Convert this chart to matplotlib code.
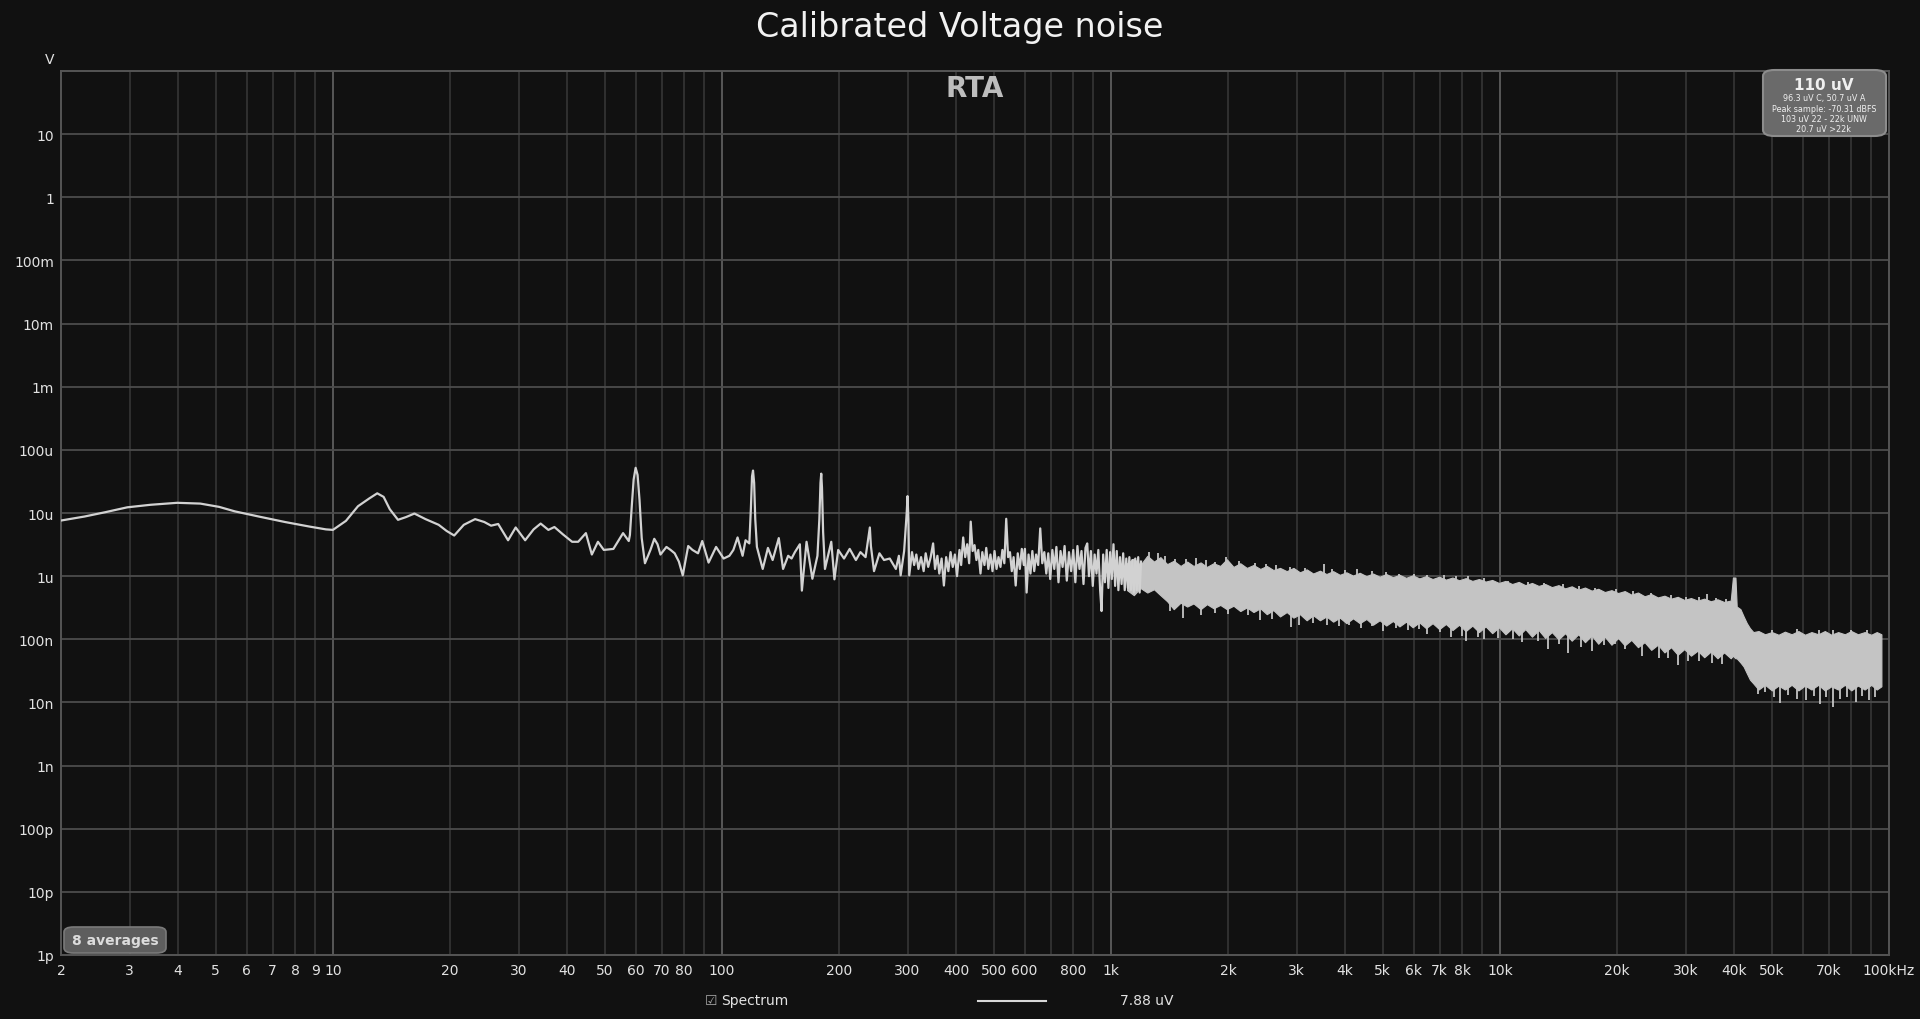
import numpy as np
import matplotlib
matplotlib.use("Agg")
import matplotlib.pyplot as plt
from matplotlib.patches import FancyBboxPatch

# ---------------- data (values in microvolts) ----------------
line_freq = [2, 2.3, 2.6, 2.96, 3.4, 3.98, 4.56, 5.1, 5.6, 6.5, 7.53, 8.7, 9.6, 10, 10.8, 11.6, 12.4, 13.0,
             13.5, 14.0, 14.7, 15.4, 16.2, 17.3, 18.7, 19.6, 20.5, 21.7, 23.2, 24.5, 25.5, 26.6, 28.2, 29.5,
             31.2, 32.8, 34.2, 35.8, 37.1, 39.0, 41.2, 42.7, 44.7, 46.3, 48.0, 49.7, 52.6, 55.7, 57.6, 58.0,
             58.7, 59.3, 60.0, 60.7, 61.4, 62.2, 63.4, 65.5, 67, 68.3, 69.5, 72, 73.8, 75.6, 77.5, 79.3, 81.9,
             84, 86.8, 89, 92.4, 96.6, 101, 104.5, 107, 109.7, 113, 115, 117.6, 118.7, 119.5, 120.2, 121,
             121.8, 123, 127.3, 131.3, 135, 140, 143.6, 148, 151, 154, 158.6, 160.5, 165, 170.8, 176, 178,
             179.2, 180, 180.8, 182, 184, 191, 194.6, 199, 206, 213, 221, 227, 234, 238.5, 240, 241.5, 246,
             254, 261, 270, 280, 285, 288, 294, 298.5, 300, 301.5, 303, 308, 312, 316, 320, 325, 330, 334,
             339, 344, 349, 353, 358, 362, 367, 372, 377, 382, 387, 392, 397, 402, 408, 412, 417, 422, 427,
             432, 436, 441, 446, 451, 456, 462, 467, 473, 478, 484, 490, 496, 502, 508, 514, 520, 526, 532,
             538, 544, 550, 556, 562, 569, 576, 583, 590, 597, 601, 607, 614, 621, 628, 635, 642, 650, 658,
             666, 674, 682, 690, 698, 707, 715, 724, 733, 742, 751, 760, 770, 780, 790, 800, 810, 820, 830,
             840, 850, 860, 869, 878, 888, 898, 908, 918, 928, 938, 946, 955, 965, 975, 985, 995, 1005, 1015,
             1025, 1035, 1045, 1055, 1065, 1075, 1085, 1095, 1105, 1115, 1125, 1135, 1145, 1155, 1165, 1175,
             1185, 1195]
line_uv = [7.6, 8.8, 10.3, 12.3, 13.5, 14.5, 14.1, 12.5, 10.6, 8.7, 7.2, 6.1, 5.5, 5.4, 7.5, 12.8, 17.0, 20.5,
           18.0, 11.5, 7.8, 8.6, 9.8, 8.0, 6.5, 5.2, 4.4, 6.5, 8.0, 7.2, 6.3, 6.7, 3.7, 5.9,
           3.7, 5.5, 6.8, 5.4, 6.0, 4.6, 3.5, 3.5, 4.8, 2.2, 3.5, 2.6, 2.7, 4.8, 3.6, 4.5,
           14, 34, 52, 40, 16, 4.0, 1.6, 2.6, 3.9, 3.2, 2.2, 2.9, 2.6, 2.3, 1.7, 1.03, 3.0,
           2.6, 2.3, 3.6, 1.64, 2.9, 1.9, 2.1, 2.6, 4.1, 2.1, 3.7, 3.3, 12, 38, 47, 30,
           8, 2.9, 1.3, 2.8, 1.8, 4.0, 1.3, 2.1, 1.9, 2.4, 3.2, 0.59, 3.5, 0.91, 2.1, 8,
           30, 42, 25, 5, 1.3, 3.5, 0.89, 2.6, 1.9, 2.7, 1.8, 2.4, 2.0, 4.5, 5.9, 3.0, 1.2,
           2.3, 1.8, 1.9, 1.3, 2.1, 1.03, 2.5, 10, 18.5, 8, 1.03, 2.4, 1.5, 2.2, 1.3, 2.0, 1.2, 2.3,
           1.4, 2.0, 3.3, 1.3, 2.1, 1.1, 1.9, 0.71, 2.0, 1.2, 2.4, 1.4, 2.2, 1.0, 2.6, 1.5, 4.1, 2.0, 3.2,
           1.6, 7.3, 2.5, 3.1, 1.8, 2.6, 1.1, 2.4, 1.5, 2.8, 1.3, 2.2, 1.2, 2.5, 1.3, 2.0, 1.4, 2.6, 1.6,
           8.1, 2.0, 2.4, 1.2, 2.0, 0.71, 2.3, 1.3, 2.7, 1.5, 2.7, 0.55, 2.2, 1.1, 2.5, 1.2, 2.2, 1.5, 5.7,
           1.6, 2.4, 1.1, 2.3, 0.9, 2.6, 1.3, 2.9, 0.8, 2.5, 1.4, 3.0, 0.85, 2.4, 1.2, 2.6, 0.8, 3.0, 1.3,
           2.5, 0.75, 2.8, 3.3, 1.0, 2.5, 0.7, 2.2, 1.1, 2.6, 0.6, 0.28, 2.2, 0.8, 2.6, 0.65, 2.4, 0.9, 3.2,
           0.7, 2.5, 0.6, 2.0, 0.75, 2.3, 0.6, 1.9, 0.65, 2.0, 0.6, 1.8, 0.55, 1.9, 0.6, 2.0,
           0.55, 1.7]

band_freq = [1100, 1145, 1190, 1240, 1290, 1340, 1395, 1450, 1510, 1570, 1630, 1700, 1765, 1835, 1910, 1985,
             2065, 2150, 2235, 2325, 2420, 2515, 2615, 2720, 2830, 2945,
             3060, 3185, 3310, 3445, 3580, 3725, 3875, 4030, 4190, 4360, 4535, 4715, 4905,
             5100, 5305, 5515, 5735, 5965, 6205, 6455, 6710, 6980, 7260, 7550, 7850, 8165, 8490, 8830,
             9185, 9550, 9935,
             10330, 10745, 11175, 11620, 12085, 12570, 13070, 13595, 14140, 14705, 15290, 15900, 16540,
             17200, 17890, 18600, 19345, 20120,
             20925, 21760, 22630, 23535, 24480, 25455, 26475, 27535, 28635, 29780, 30970, 32210, 33500,
             34840, 36230, 37680, 39190, 39700, 40300, 40600, 41500, 42300, 43100, 43900, 44800,
             46200, 48000, 50000, 52000, 54000, 56200, 58500, 60800, 63200, 65800, 68400, 71100, 74000,
             77000, 80000, 83200, 86600, 90000, 93000, 95600]
band_top_uv = [1.6, 1.9, 1.5, 2.1, 1.7, 2.0, 1.55, 1.75, 1.45, 1.7, 1.45, 1.65, 1.4, 1.6, 1.45, 1.85,
               1.4, 1.6, 1.35, 1.5, 1.3, 1.45, 1.25, 1.35, 1.2, 1.35,
               1.15, 1.28, 1.1, 1.22, 1.08, 1.2, 1.05, 1.15, 1.02, 1.13, 1.0, 1.1, 0.98,
               1.08, 0.96, 1.05, 0.94, 1.03, 0.92, 1.0, 0.9, 0.98, 0.88, 0.95, 0.86, 0.93, 0.84, 0.9,
               0.82, 0.87, 0.78,
               0.84, 0.75, 0.81, 0.72, 0.78, 0.7, 0.75, 0.67, 0.72, 0.64, 0.69, 0.61, 0.66,
               0.59, 0.63, 0.56, 0.6, 0.54,
               0.58, 0.51, 0.55, 0.48, 0.52, 0.46, 0.49, 0.44, 0.47, 0.42, 0.45, 0.41, 0.44,
               0.4, 0.43, 0.39, 0.41, 0.95, 0.95, 0.33, 0.3, 0.23, 0.18, 0.15, 0.13,
               0.135, 0.12, 0.13, 0.118, 0.132, 0.12, 0.135, 0.118, 0.13, 0.12, 0.135, 0.118, 0.13,
               0.12, 0.135, 0.12, 0.13, 0.118, 0.13, 0.12]
band_bot_uv = [0.6, 0.5, 0.65, 0.55, 0.62, 0.5, 0.4, 0.3, 0.38, 0.33, 0.37, 0.3, 0.36, 0.31, 0.35, 0.3,
               0.34, 0.28, 0.32, 0.27, 0.31, 0.25, 0.29, 0.23, 0.27, 0.22,
               0.25, 0.2, 0.24, 0.2, 0.23, 0.19, 0.22, 0.18, 0.215, 0.18, 0.21, 0.17, 0.2,
               0.165, 0.195, 0.16, 0.19, 0.155, 0.185, 0.15, 0.18, 0.145, 0.175, 0.14, 0.17, 0.135, 0.165, 0.13,
               0.16, 0.125, 0.155,
               0.12, 0.15, 0.115, 0.145, 0.11, 0.14, 0.105, 0.13, 0.1, 0.125, 0.095, 0.12, 0.09,
               0.115, 0.085, 0.11, 0.082, 0.105,
               0.08, 0.098, 0.075, 0.09, 0.068, 0.082, 0.062, 0.075, 0.057, 0.07, 0.055, 0.066, 0.052,
               0.064, 0.05, 0.062, 0.05, 0.055, 0.05, 0.05, 0.043, 0.037, 0.029, 0.023, 0.02,
               0.016, 0.019, 0.0155, 0.0185, 0.016, 0.019, 0.0155, 0.0185, 0.016, 0.019, 0.0155, 0.018, 0.016,
               0.019, 0.0155, 0.0185, 0.016, 0.019, 0.016, 0.018]

up_spike_freq = [1250, 1320, 1380, 1460, 1560, 1650, 1760, 1850, 1970, 2140, 2350, 2500, 2650, 2880, 3150,
                 3530, 3700, 4000, 4300, 4700, 5100, 5500, 6000, 6500, 7200, 7700, 8300, 9100, 10500, 11800,
                 13000, 14500, 16000, 17500, 19900, 22000, 24500, 27500, 30000, 32500, 34000, 36000, 38000,
                 50000, 58000, 66000, 72000, 80000, 88000]
up_spike_uv = [2.45, 2.3, 2.1, 1.9, 1.85, 1.95, 1.8, 1.7, 2.0, 1.75, 1.6, 1.55, 1.5, 1.4, 1.35,
               1.55, 1.3, 1.25, 1.3, 1.2, 1.15, 1.1, 1.1, 1.05, 1.05, 1.0, 1.0, 0.94, 0.83, 0.8,
               0.78, 0.75, 0.7, 0.66, 0.62, 0.58, 0.54, 0.5, 0.47, 0.46, 0.53, 0.45, 0.44,
               0.14, 0.145, 0.14, 0.14, 0.14, 0.14]

dn_spike_freq = [1420, 1530, 1700, 1850, 2000, 2250, 2420, 2600, 2900, 3050, 3300, 3600, 3850, 4100, 4400,
                 4700, 5000, 5400, 5800, 6200, 6500, 7000, 7500, 8000, 8200, 8800, 9100, 9900, 10800, 11400,
                 12500, 13300, 14200, 15000, 16200, 17200, 18500, 19800, 21000, 23200, 25600, 27000, 28600,
                 30500, 32400, 35000, 37200, 46000, 48000, 50500, 52500, 55000, 58000, 61200, 64000, 66500,
                 69000, 71600, 75000, 78000, 82400, 85000, 88900, 92000]
dn_spike_uv = [0.28, 0.22, 0.24, 0.26, 0.25, 0.24, 0.2, 0.21, 0.155, 0.17, 0.18, 0.17, 0.16, 0.17, 0.15,
               0.16, 0.137, 0.15, 0.14, 0.145, 0.12, 0.13, 0.107, 0.113, 0.094, 0.11, 0.1, 0.105, 0.1, 0.09,
               0.095, 0.07, 0.085, 0.06, 0.075, 0.065, 0.08, 0.085, 0.07, 0.055, 0.05, 0.05, 0.039,
               0.045, 0.045, 0.042, 0.04, 0.0135, 0.0147, 0.012, 0.0098, 0.013, 0.0115, 0.011, 0.0125, 0.0095,
               0.012, 0.0086, 0.0115, 0.012, 0.0102, 0.0125, 0.011, 0.012]

xtick_vals = [2, 3, 4, 5, 6, 7, 8, 9, 10, 20, 30, 40, 50, 60, 70, 80, 100, 200, 300, 400, 500, 600, 800,
              1000, 2000, 3000, 4000, 5000, 6000, 7000, 8000, 10000, 20000, 30000, 40000, 50000, 70000, 100000]
xtick_labels = ['2', '3', '4', '5', '6', '7', '8', '9', '10', '20', '30', '40', '50', '60', '70', '80', '100',
                '200', '300', '400', '500', '600', '800', '1k', '2k', '3k', '4k', '5k', '6k', '7k', '8k', '10k',
                '20k', '30k', '40k', '50k', '70k', '100kHz']
ytick_vals = [1e1, 1e0, 1e-1, 1e-2, 1e-3, 1e-4, 1e-5, 1e-6, 1e-7, 1e-8, 1e-9, 1e-10, 1e-11, 1e-12]
ytick_labels = ['10', '1', '100m', '10m', '1m', '100u', '10u', '1u', '100n', '10n', '1n', '100p', '10p', '1p']

title = "Calibrated Voltage noise"
legend_name = "Spectrum"
legend_value = "7.88 uV"
info_main = "110 uV"
info_lines = ["96.3 uV C, 50.7 uV A", "Peak sample: -70.31 dBFS", "103 uV 22 - 22k UNW", "20.7 uV >22k"]
averages_text = "8 averages"

# ---------------- figure ----------------
W, H = 1920, 1020
BG = '#111111'
fig = plt.figure(figsize=(W / 100, H / 100), dpi=100, facecolor=BG)
L, R, T, B = 61, 1889, 72, 956
ax = fig.add_axes([L / W, 1 - B / H, (R - L) / W, (B - T) / H], facecolor=BG)
ax.set_xscale('log')
ax.set_yscale('log')
ax.set_xlim(2, 1e5)
ax.set_ylim(1e-12, 1e2)

# grid
for k in range(0, 5):
    for m in range(1, 10):
        f = m * 10 ** k
        if 2 < f < 1e5:
            if m == 1:
                ax.axvline(f, color='#575757', lw=1.4, zorder=1)
            else:
                ax.axvline(f, color='#393939', lw=1.1, zorder=1)
for v in ytick_vals[:-1]:
    ax.axhline(v, color='#4c4c4c', lw=1.3, zorder=1)

for s in ax.spines.values():
    s.set_color('#555555')
    s.set_linewidth(1.4)

ax.set_xticks(xtick_vals)
ax.set_xticklabels(xtick_labels)
ax.set_yticks(ytick_vals)
ax.set_yticklabels(ytick_labels)
ax.minorticks_off()
ax.tick_params(axis='both', length=0, colors='#e2e2e2', labelsize=10)
ax.tick_params(axis='x', pad=6)
ax.tick_params(axis='y', pad=5)

# data
uv = 1e-6
lf = np.array(line_freq, float)
lv = np.array(line_uv, float) * uv
bf = np.array(band_freq, float)
bt = np.array(band_top_uv, float) * uv
bb = np.array(band_bot_uv, float) * uv
band_col = '#c4c4c4'

ax.fill_between(bf, bb, bt, color=band_col, lw=0.8, edgecolor=band_col, zorder=3)
centre = np.log(np.sqrt(bt * bb))
up_base = np.exp(np.interp(np.log(up_spike_freq), np.log(bf), centre))
dn_base = np.exp(np.interp(np.log(dn_spike_freq), np.log(bf), centre))
ax.vlines(up_spike_freq, up_base, np.array(up_spike_uv) * uv, color=band_col, lw=1.3, zorder=3)
ax.vlines(dn_spike_freq, np.array(dn_spike_uv) * uv, dn_base, color=band_col, lw=1.3, zorder=3)
ax.plot(lf, lv, color='#d2d2d2', lw=1.6, zorder=4, solid_joinstyle='round')

# RTA label
fig.text(975 / W, 1 - 89 / H, 'RTA', ha='center', va='center', fontsize=20,
         fontweight='bold', color='#bdbdbd', zorder=6)

# title and unit
fig.text(960 / W, 1 - 28 / H, title, ha='center', va='center', fontsize=24, color='#f2f2f2')
fig.text(50 / W, 1 - 60 / H, 'V', ha='center', va='center', fontsize=10, color='#e2e2e2')

# info box (top right)
box = FancyBboxPatch((1763 / W, 1 - 137 / H), (1886 - 1763) / W, (137 - 71) / H,
                     boxstyle='round,pad=0,rounding_size=0.006', transform=fig.transFigure,
                     facecolor='#6a6a6a', edgecolor='#8c8c8c', lw=1.5, zorder=10)
fig.patches.append(box)
fig.text(1824 / W, 1 - 85 / H, info_main, ha='center', va='center', fontsize=11, fontweight='bold',
         color='#f0f0f0', zorder=11)
for i, s in enumerate(info_lines):
    fig.text(1824 / W, 1 - (99 + 10.3 * i) / H, s, ha='center', va='center', fontsize=5.8,
             color='#f0f0f0', zorder=11)

# averages box (bottom left)
box2 = FancyBboxPatch((64 / W, 1 - 954 / H), (166 - 64) / W, (954 - 928) / H,
                      boxstyle='round,pad=0,rounding_size=0.005', transform=fig.transFigure,
                      facecolor='#5e5e5e', edgecolor='#7a7a7a', lw=1.2, zorder=10)
fig.patches.append(box2)
fig.text(115 / W, 1 - 941 / H, averages_text, ha='center', va='center', fontsize=10, fontweight='bold',
         color='#dcdcdc', zorder=11)

# legend at bottom
fig.text(711 / W, 1 - 1001 / H, '\u2611', ha='center', va='center', fontsize=10, color='#a8a8a8')
fig.text(721 / W, 1 - 1001 / H, legend_name, ha='left', va='center', fontsize=10, color='#e2e2e2')
fig.add_artist(plt.Line2D([978 / W, 1046 / W], [1 - 1002 / H, 1 - 1002 / H], transform=fig.transFigure,
                          color='#d8d8d8', lw=1.5))
fig.text(1173 / W, 1 - 1001 / H, legend_value, ha='right', va='center', fontsize=10, color='#e2e2e2')

fig.savefig('out.png', dpi=100, facecolor=BG)
